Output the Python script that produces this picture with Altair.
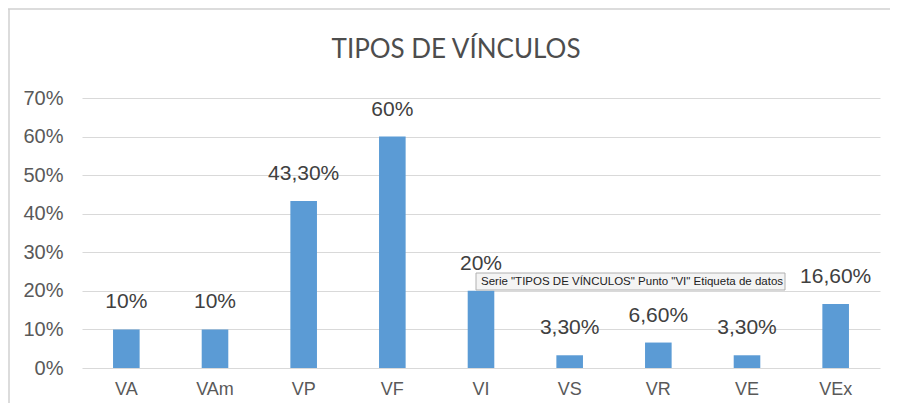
import altair as alt
import pandas as pd

categories = ["VA", "VAm", "VP", "VF", "VI", "VS", "VR", "VE", "VEx"]
values = [10, 10, 43.3, 60, 20, 3.3, 6.6, 3.3, 16.6]
labels = ["10%", "10%", "43,30%", "60%", "20%", "3,30%", "6,60%", "3,30%", "16,60%"]
y_ticks = [0, 10, 20, 30, 40, 50, 60, 70]
title_text = "TIPOS DE VÍNCULOS"
tooltip_text = 'Serie "TIPOS DE VÍNCULOS" Punto "VI" Etiqueta de datos'

df = pd.DataFrame({"cat": categories, "val": values, "label": labels})

x = alt.X("cat:N", sort=categories, title=None,
          scale=alt.Scale(paddingInner=0.7, paddingOuter=0.35),
          axis=alt.Axis(labelAngle=0, ticks=False, domain=False, labelPadding=12,
                        labelFontSize=18, labelColor="#595959", labelFont="Liberation Sans"))
y = alt.Y("val:Q", title=None,
          scale=alt.Scale(domain=[0, 70]),
          axis=alt.Axis(values=y_ticks, labelExpr="datum.value + '%'", ticks=False, domain=False,
                        labelPadding=19, labelFontSize=20, labelColor="#595959",
                        labelFont="Liberation Sans", gridColor="#d9d9d9", gridWidth=1.2))

bars = alt.Chart(df).mark_bar(color="#5B9BD5").encode(x=x, y=y)
text = alt.Chart(df).mark_text(baseline="bottom", dy=-17, fontSize=21, color="#404040",
                               font="Liberation Sans").encode(x=x, y=y, text="label:N")

one = pd.DataFrame({"t": [tooltip_text], "title": [title_text]})
title = alt.Chart(one).mark_text(align="center", baseline="alphabetic", fontSize=26, font="Lato",
                                 color="#4d4d4d").encode(
    x=alt.value(374), y=alt.value(-40), text="title:N")
tip_box = alt.Chart(one).mark_rect(fill="#f4f4f4", stroke="#b0b0b0", strokeWidth=1).encode(
    x=alt.value(394), x2=alt.value(703), y=alt.value(175), y2=alt.value(192))
tip_text = alt.Chart(one).mark_text(align="left", baseline="middle", fontSize=11.5,
                                    color="#222222", font="Liberation Sans").encode(
    x=alt.value(399), y=alt.value(183.5), text="t:N")

border_top = alt.Chart(one).mark_rule(color="#d0d0d0", strokeWidth=1.5).encode(
    x=alt.value(-74), x2=alt.value(809), y=alt.value(-89))
border_left = alt.Chart(one).mark_rule(color="#d0d0d0", strokeWidth=1.5).encode(
    x=alt.value(-73), y=alt.value(-89), y2=alt.value(305))

chart = alt.layer(bars, text, title, tip_box, tip_text, border_top, border_left).properties(
    width=798, height=270,
    autosize=alt.AutoSizeParams(type="none"),
    padding={"left": 74, "top": 90, "right": 10, "bottom": 35},
).configure_view(stroke=None)

chart.save("out.html", embed_options={"renderer": "svg", "actions": False})
